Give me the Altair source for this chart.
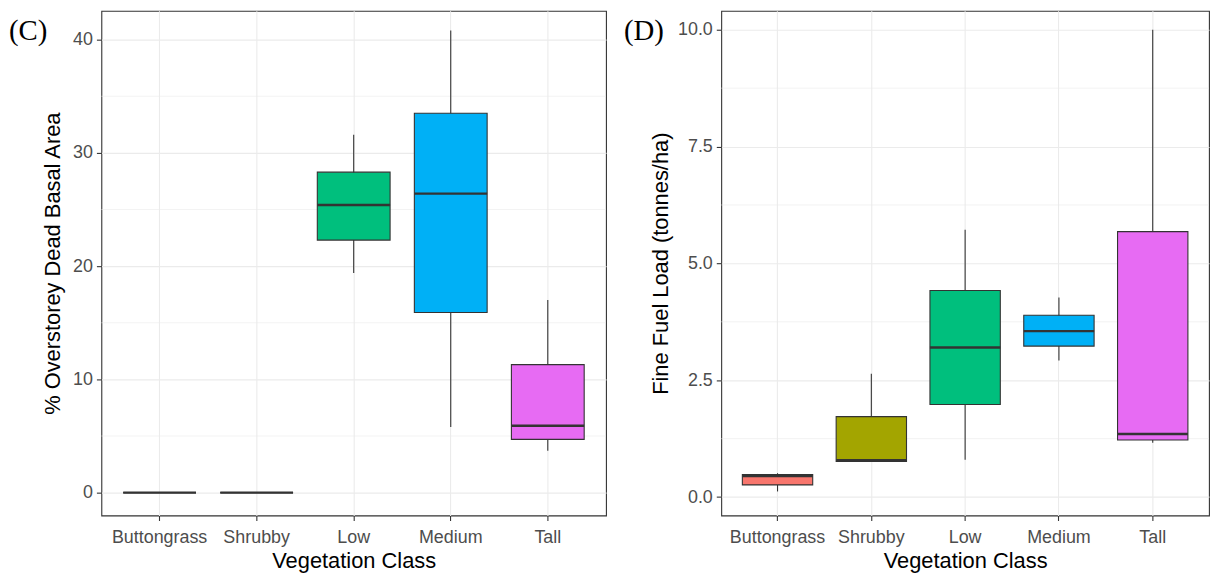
import altair as alt
import pandas as pd

categories = ["Buttongrass", "Shrubby", "Low", "Medium", "Tall"]
colors = ["#F8766D", "#A3A500", "#00BF7D", "#00B0F6", "#E76BF3"]

# Panel C: % Overstorey Dead Basal Area
c_lower = [0, 0, 19.4, 5.8, 3.7]
c_q1 = [0, 0, 22.3, 15.9, 4.7]
c_median = [0, 0, 25.4, 26.4, 5.9]
c_q3 = [0, 0, 28.3, 33.5, 11.3]
c_upper = [0, 0, 31.6, 40.8, 17.0]
c_ticks = [0, 10, 20, 30, 40]
c_minor = [5, 15, 25, 35]

# Panel D: Fine Fuel Load (tonnes/ha)
d_lower = [0.12, 0.76, 0.80, 2.92, 1.16]
d_q1 = [0.26, 0.76, 1.98, 3.23, 1.22]
d_median = [0.45, 0.79, 3.20, 3.55, 1.35]
d_q3 = [0.48, 1.72, 4.42, 3.89, 5.68]
d_upper = [0.51, 2.64, 5.72, 4.27, 10.0]
d_ticks = [0.0, 2.5, 5.0, 7.5, 10.0]
d_minor = [1.25, 3.75, 6.25, 8.75]

DARK = "#333333"
H = 508


def panel(lower, q1, med, q3, upper, domain, ticks, fmt, minor, ytitle,
          label, width, label_dx, title_pad):
    df = pd.DataFrame({"cls": categories, "lower": lower, "q1": q1,
                       "median": med, "q3": q3, "upper": upper})
    yscale = alt.Scale(domain=domain, nice=False, zero=False)
    yaxis = alt.Axis(title=ytitle, values=ticks, format=fmt, grid=True,
                     titlePadding=title_pad)
    xenc = alt.X("cls:N", sort=categories,
                 scale=alt.Scale(domain=categories, paddingInner=0,
                                 paddingOuter=0.1),
                 axis=alt.Axis(title="Vegetation Class", labelAngle=0,
                               grid=True, titlePadding=4, labelPadding=8))
    step = width / 5.2

    minor_layer = alt.Chart(pd.DataFrame({"v": minor})).mark_rule(
        color="#EBEBEB", strokeWidth=0.6
    ).encode(y=alt.Y("v:Q", scale=yscale, axis=yaxis))

    whisk = alt.Chart(df).mark_rule(color=DARK, strokeWidth=1.1).encode(
        x=xenc, y=alt.Y("lower:Q", scale=yscale, axis=yaxis), y2="upper:Q")

    box = alt.Chart(df).mark_bar(
        stroke=DARK, strokeWidth=1.1, width=alt.RelativeBandSize(0.75)
    ).encode(
        x=xenc, y=alt.Y("q1:Q", scale=yscale, axis=yaxis), y2="q3:Q",
        color=alt.Color("cls:N", scale=alt.Scale(domain=categories,
                                                 range=colors), legend=None))

    medtick = alt.Chart(df).mark_tick(
        color=DARK, thickness=2.4, size=step * 0.75, opacity=1
    ).encode(x=xenc, y=alt.Y("median:Q", scale=yscale, axis=yaxis))

    lab = alt.Chart(pd.DataFrame({"t": [label]})).mark_text(
        font="Liberation Serif", fontSize=29, align="left",
        baseline="middle", color="black"
    ).encode(x=alt.value(label_dx), y=alt.value(20), text="t:N")

    return alt.layer(minor_layer, whisk, box, medtick, lab).properties(
        width=width, height=H)


pc = panel(c_lower, c_q1, c_median, c_q3, c_upper, [-2.02, 42.54], c_ticks,
           "d", c_minor, "% Overstorey Dead Basal Area", "(C)", 508, -93, 8)
pd_ = panel(d_lower, d_q1, d_median, d_q3, d_upper, [-0.395, 10.404],
            d_ticks, ".1f", d_minor, "Fine Fuel Load (tonnes/ha)", "(D)",
            491, -98, 5)

chart = alt.hconcat(pc, pd_, spacing=16).properties(
    padding=0
).configure_view(
    stroke=DARK, strokeWidth=1.1
).configure_axis(
    labelFont="Liberation Sans", labelFontSize=18, labelColor="#4D4D4D",
    titleFont="Liberation Sans", titleFontSize=22, titleFontWeight="normal",
    titleColor="black", domain=False, tickColor=DARK, tickSize=5,
    tickWidth=1.1, gridColor="#EBEBEB", gridWidth=1.1, labelPadding=4
)

chart.save("out.html", embed_options={"renderer": "svg", "actions": False})
